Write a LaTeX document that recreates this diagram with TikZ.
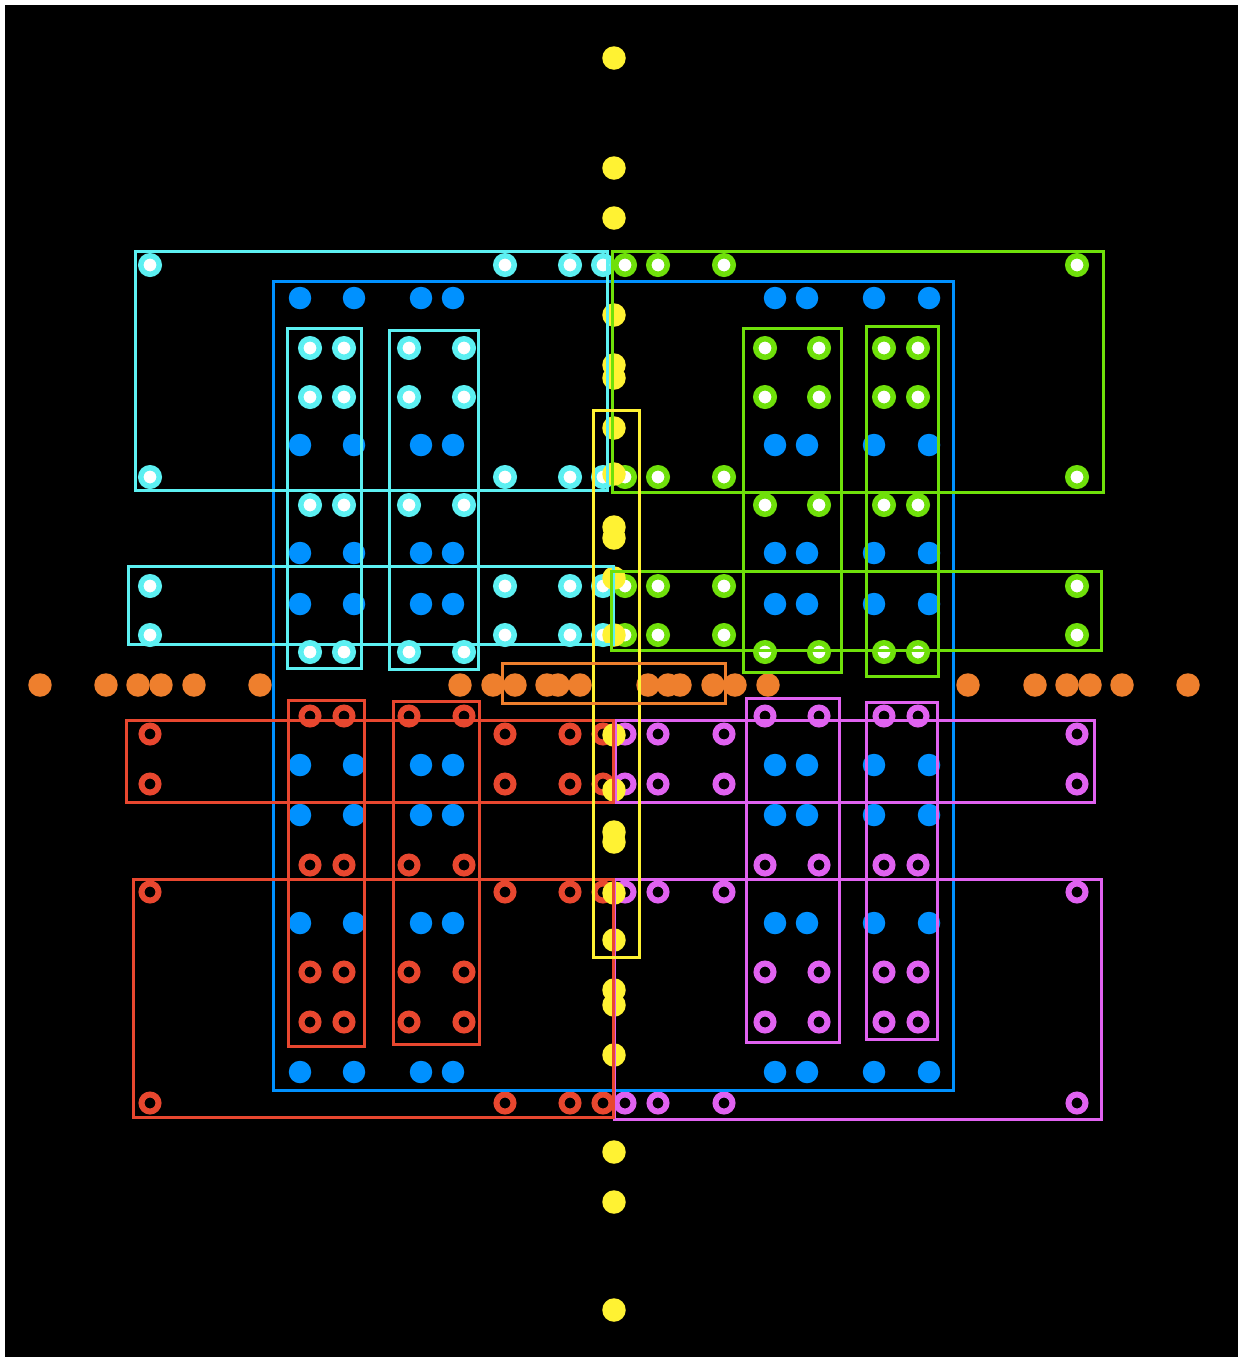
\documentclass[tikz,border=0pt]{standalone}
\usepackage{tikz}
\usepackage{xcolor}
\definecolor{padyellow}{HTML}{FFF233}
\definecolor{padorange}{HTML}{EE7F2D}
\definecolor{padblue}{HTML}{0091FF}
\definecolor{padcyan}{HTML}{5CF0F2}
\definecolor{padgreen}{HTML}{6FE00A}
\definecolor{padred}{HTML}{E8472F}
\definecolor{padmagenta}{HTML}{E062F0}
\begin{document}
\begin{tikzpicture}[x=0.02cm,y=-0.02cm,
  frame/.style={line width=0.06cm},
  ring/.style={line width=0.12cm},
  lit ring/.style={line width=0.11cm,fill=white},
  solid dot/.style={radius=0.235cm},
  hole/.style={radius=0.17cm},
  lit hole/.style={radius=0.185cm}]
  \useasboundingbox (0,0) rectangle (1238,1357);
  \fill[white] (0,0) rectangle (1238,1357);
  \fill[black] (5,5) rectangle (1238,1357);
  % pads
  \foreach \y in {298,445,553,604,765,815,923,1072}
    \foreach \x in {300,354,421,453,775,807,874,929}
      \fill[padblue] (\x,\y) circle[radius=0.225cm];
  \foreach \y in {265,477,586,635}
    \foreach \x in {150,505,570,603}
      \draw[padcyan,lit ring] (\x,\y) circle[lit hole];
  \foreach \y in {348,397,505,652}
    \foreach \x in {310,344,409,464}
      \draw[padcyan,lit ring] (\x,\y) circle[lit hole];
  \foreach \y in {265,477,586,635}
    \foreach \x in {625,658,724,1077}
      \draw[padgreen,lit ring] (\x,\y) circle[lit hole];
  \foreach \y in {348,397,505,652}
    \foreach \x in {765,819,884,918}
      \draw[padgreen,lit ring] (\x,\y) circle[lit hole];
  \foreach \y in {734,784,892,1103}
    \foreach \x in {625,658,724,1077}
      \draw[ring,padmagenta] (\x,\y) circle[hole];
  \foreach \y in {716,865,972,1022}
    \foreach \x in {765,819,884,918}
      \draw[ring,padmagenta] (\x,\y) circle[hole];
  \foreach \y in {734,784,892,1103}
    \foreach \x in {150,505,570,603}
      \draw[ring,padred] (\x,\y) circle[hole];
  \foreach \y in {716,865,972,1022}
    \foreach \x in {310,344,409,464}
      \draw[ring,padred] (\x,\y) circle[hole];
  \foreach \y in {58,168,218,315,365,378,428,474,527,538,578,635,735,790,832,842,893,940,990,1005,1055,1152,1202,1310}
    \fill[padyellow] (614,\y) circle[solid dot];
  \foreach \x in {40,106,138,161,194,260,460,493,515,547,558,580,648,668,680,713,735,768,968,1035,1067,1090,1122,1188}
    \fill[padorange] (\x,685) circle[solid dot];
  % outlines
  \draw[frame,padblue] (273,281) rectangle (953,1090);
  \draw[frame,padcyan] (135,251) rectangle (607,490);
  \draw[frame,padcyan] (128,566) rectangle (613,644);
  \draw[frame,padcyan] (287,328) rectangle (361,668);
  \draw[frame,padcyan] (389,330) rectangle (478,669);
  \draw[frame,padgreen] (612,251) rectangle (1103,492);
  \draw[frame,padgreen] (611,571) rectangle (1101,650);
  \draw[frame,padgreen] (743,328) rectangle (841,672);
  \draw[frame,padgreen] (866,326) rectangle (938,676);
  \draw[frame,padmagenta] (615,720) rectangle (1094,802);
  \draw[frame,padmagenta] (614,879) rectangle (1101,1119);
  \draw[frame,padmagenta] (746,698) rectangle (839,1042);
  \draw[frame,padmagenta] (866,702) rectangle (937,1039);
  \draw[frame,padred] (126,720) rectangle (613,802);
  \draw[frame,padred] (133,879) rectangle (613,1117);
  \draw[frame,padred] (288,700) rectangle (364,1046);
  \draw[frame,padred] (393,701) rectangle (479,1044);
  \draw[frame,padyellow] (593,410) rectangle (639,957);
  \draw[frame,padorange] (502,663) rectangle (725,703);
\end{tikzpicture}
\end{document}
